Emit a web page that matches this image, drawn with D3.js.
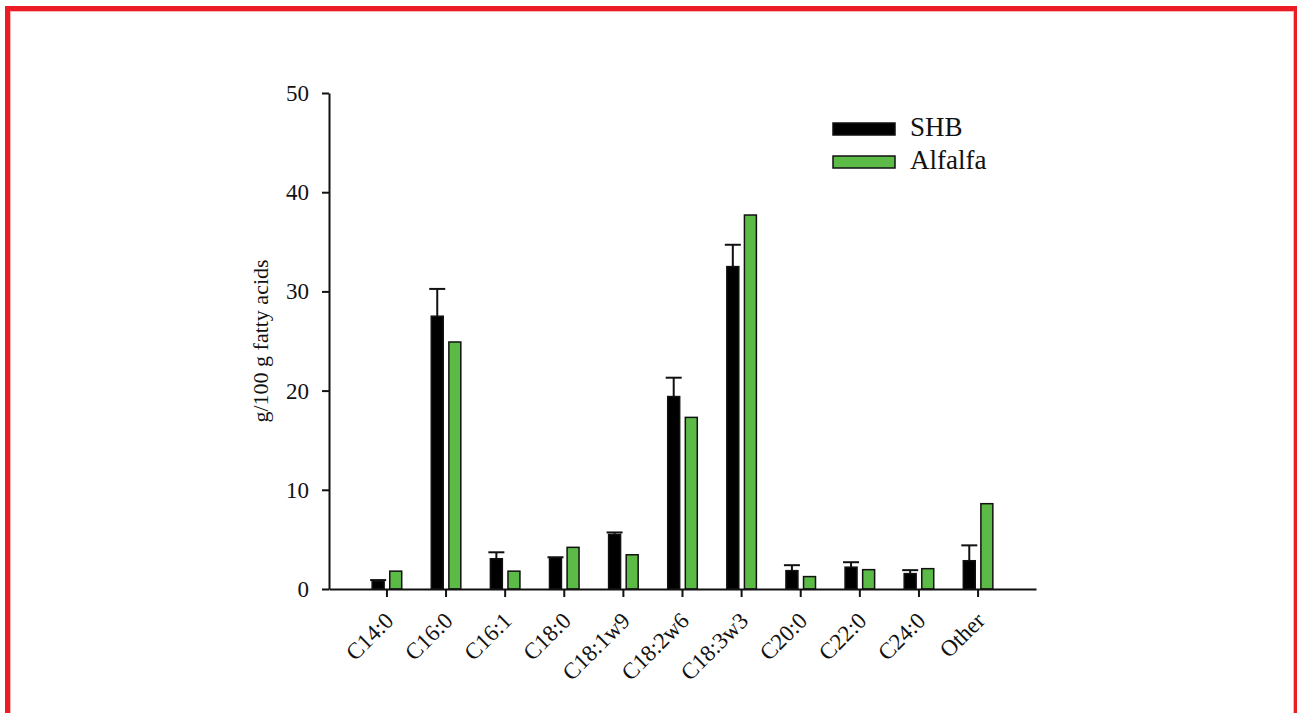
<!DOCTYPE html>
<html lang="en">
<head>
<meta charset="UTF-8" />
<title>Fatty acids</title>
<script src="https://d3js.org/d3.v7.min.js"></script>
<style>
    body { margin: 0; background: #fff; }
    svg text { font-family: "Liberation Serif", "Times New Roman", serif; fill: #111; }
    .axis path, .axis line { stroke: #111; stroke-width: 2; fill: none; }
</style>
</head>
<body>
<script>
var categories = ["C14:0", "C16:0", "C16:1", "C18:0", "C18:1w9", "C18:2w6", "C18:3w3", "C20:0", "C22:0", "C24:0", "Other"];
var seriesNames = ["SHB", "Alfalfa"];
var shbValues = [0.8, 27.5, 3.05, 3.15, 5.5, 19.4, 32.5, 1.85, 2.2, 1.55, 2.85];
var shbErrors = [0.1, 2.75, 0.65, 0.05, 0.2, 1.9, 2.2, 0.55, 0.5, 0.35, 1.55];
var alfalfaValues = [1.8, 24.9, 1.8, 4.2, 3.45, 17.3, 37.7, 1.25, 1.95, 2.05, 8.6];
var yTicks = [0, 10, 20, 30, 40, 50];

var W = 1297, H = 713;
var colors = { SHB: "#000000", Alfalfa: "#5cba47" };

var svg = d3.select("body").append("svg")
    .attr("width", W)
    .attr("height", H);

// red frame round the figure, with its faint inner edge
svg.append("rect")
    .attr("x", 7.5).attr("y", 8.5)
    .attr("width", 1289).attr("height", 720)
    .attr("fill", "none")
    .attr("stroke", "#ec1c24")
    .attr("stroke-width", 5);
svg.append("rect")
    .attr("x", 10.5).attr("y", 11.5)
    .attr("width", 1283).attr("height", 720)
    .attr("fill", "none")
    .attr("stroke", "#f7b5b5")
    .attr("stroke-width", 1);

var rows = categories.map(function (c, i) {
    return { cat: c, SHB: shbValues[i], err: shbErrors[i], Alfalfa: alfalfaValues[i] };
});

var x0 = d3.scaleBand()
    .domain(categories)
    .range([329, 1036])
    .paddingInner(0.5)
    .paddingOuter(0.73);

var x1 = d3.scaleBand()
    .domain(seriesNames)
    .range([0, x0.bandwidth()])
    .paddingInner(0.32);

var y = d3.scaleLinear()
    .domain([0, 50])
    .range([589, 93]);

// bars
var groups = svg.selectAll(".grp")
    .data(rows)
    .enter().append("g")
    .attr("class", "grp")
    .attr("transform", function (d) { return "translate(" + x0(d.cat) + ",0)"; });

groups.selectAll("rect")
    .data(function (d) { return seriesNames.map(function (k) { return { key: k, value: d[k] }; }); })
    .enter().append("rect")
    .attr("x", function (d) { return x1(d.key); })
    .attr("y", function (d) { return y(d.value); })
    .attr("width", x1.bandwidth())
    .attr("height", function (d) { return y(0) - y(d.value); })
    .attr("fill", function (d) { return colors[d.key]; })
    .attr("stroke", "#111")
    .attr("stroke-width", 1.5);

// error bars on SHB
var cx = x1("SHB") + x1.bandwidth() / 2;
groups.append("line")
    .attr("x1", cx).attr("x2", cx)
    .attr("y1", function (d) { return y(d.SHB); })
    .attr("y2", function (d) { return y(d.SHB + d.err); })
    .attr("stroke", "#111").attr("stroke-width", 2);
groups.append("line")
    .attr("x1", cx - 8).attr("x2", cx + 8)
    .attr("y1", function (d) { return y(d.SHB + d.err); })
    .attr("y2", function (d) { return y(d.SHB + d.err); })
    .attr("stroke", "#111").attr("stroke-width", 2);

// axes
var yAxis = svg.append("g")
    .attr("class", "axis")
    .attr("transform", "translate(329,0)")
    .call(d3.axisLeft(y).tickValues(yTicks).tickSize(7).tickSizeOuter(0).tickPadding(13));
yAxis.selectAll("text").style("font-size", "23px").attr("dy", "0.33em");

var xAxis = svg.append("g")
    .attr("class", "axis")
    .attr("transform", "translate(0,589)")
    .call(d3.axisBottom(x0).tickSize(8).tickSizeOuter(0));
xAxis.selectAll("text")
    .style("font-size", "23px")
    .attr("text-anchor", "end")
    .attr("x", 0).attr("y", 0).attr("dy", 0)
    .attr("transform", "translate(8,33) rotate(-45)");

svg.append("text")
    .attr("transform", "translate(268,341) rotate(-90)")
    .attr("text-anchor", "middle")
    .style("font-size", "22px")
    .text("g/100 g fatty acids");

// legend
var legend = svg.selectAll(".leg")
    .data(seriesNames)
    .enter().append("g")
    .attr("class", "leg")
    .attr("transform", function (d, i) { return "translate(833," + (123 + i * 33) + ")"; });
legend.append("rect")
    .attr("width", 62).attr("height", 12)
    .attr("fill", function (d) { return colors[d]; })
    .attr("stroke", "#111").attr("stroke-width", 1.5);
legend.append("text")
    .attr("x", 77).attr("y", 13)
    .style("font-size", "27px")
    .text(function (d) { return d; });
</script>
</body>
</html>
